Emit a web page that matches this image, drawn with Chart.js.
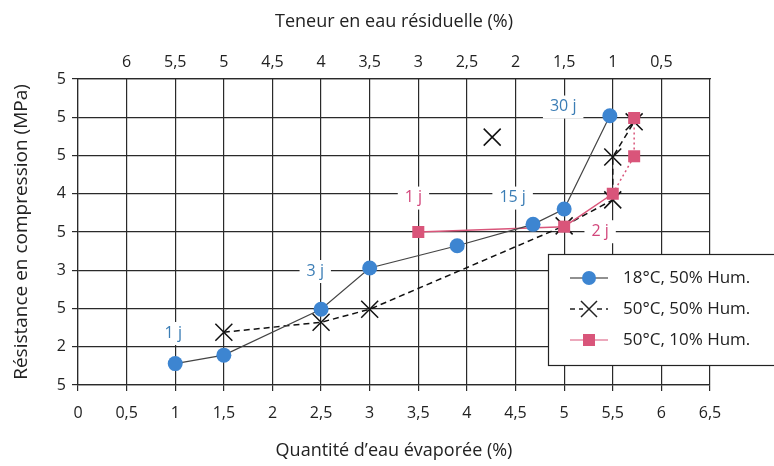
<!DOCTYPE html>
<html>
<head>
<meta charset="utf-8">
<script src="https://cdn.jsdelivr.net/npm/chart.js@4.4.1/dist/chart.umd.min.js"></script>
<style>
  html, body { margin: 0; padding: 0; background: #fff; }
  #wrap { width: 774px; height: 466px; }
</style>
</head>
<body>
<div id="wrap"><canvas id="chart" width="774" height="466"></canvas></div>
<script>
// Values
const bottomTickLabels = ['0', '0,5', '1', '1,5', '2', '2,5', '3', '3,5', '4', '4,5', '5', '5,5', '6', '6,5'];
const topTickLabels = ['', '6', '5,5', '5', '4,5', '4', '3,5', '3', '2,5', '2', '1,5', '1', '0,5', ''];
const yTickLabels = ['5', '2', '5', '3', '5', '4', '5', '5', '5'];

const seriesNames = ['18°C, 50% Hum.', '50°C, 50% Hum.', '50°C, 10% Hum.'];

const xHum18 = [1, 1.5, 2.5, 3, 3.9, 4.68, 5, 5.47];
const yHum18 = [1.78, 1.89, 2.49, 3.03, 3.32, 3.6, 3.8, 5.02];

const xHum50 = [1.5, 2.5, 3, 5, 5.5, 5.5, 5.72];
const yHum50 = [2.19, 2.32, 2.49, 3.58, 3.92, 4.48, 4.94];
const xHum50Extra = [4.26];
const yHum50Extra = [4.74];

const xHum10 = [3.5, 5, 5.5, 5.72, 5.72];
const yHum10 = [3.5, 3.57, 4.0, 4.49, 4.99];

const noteTexts = ['1 j', '3 j', '15 j', '30 j', '1 j', '2 j'];
const noteX = [0.98, 2.44, 4.47, 4.99, 3.45, 5.37];
const noteY = [2.18, 2.99, 3.95, 5.14, 3.95, 3.51];
const noteSeries = [0, 0, 0, 0, 2, 2];

const FONT = "'Open Sans', 'DejaVu Sans', sans-serif";
const INK = '#222222';
const BLUE = '#3d85d1';
const BLUE_TEXT = '#3b7db5';
const PINK = '#d9557a';
const PINK_TEXT = '#d2467b';

function toPoints(xs, ys) {
  return xs.map((x, i) => ({ x: x, y: ys[i] }));
}

// White-backed day labels
const notesPlugin = {
  id: 'notes',
  afterDatasetsDraw(chart) {
    const ctx = chart.ctx;
    const xs = chart.scales.x, ys = chart.scales.y;
    ctx.save();
    ctx.font = '16px ' + FONT;
    ctx.textAlign = 'center';
    ctx.textBaseline = 'middle';
    noteTexts.forEach((t, i) => {
      const px = xs.getPixelForValue(noteX[i]);
      const py = ys.getPixelForValue(noteY[i]);
      const w = ctx.measureText(t).width + 14;
      ctx.fillStyle = '#fff';
      ctx.fillRect(px - w / 2, py - 11, w, 23);
      ctx.fillStyle = noteSeries[i] === 0 ? BLUE_TEXT : PINK_TEXT;
      ctx.fillText(t, px, py);
    });
    ctx.restore();
  }
};

// Boxed legend on the right
const legendBoxPlugin = {
  id: 'legendBox',
  afterDatasetsDraw(chart) {
    const ctx = chart.ctx;
    const left = 548, top = 254, bottom = 365;
    ctx.save();
    ctx.fillStyle = '#fff';
    ctx.fillRect(left, top, 240, bottom - top);
    ctx.strokeStyle = INK;
    ctx.lineWidth = 1.2;
    ctx.strokeRect(left + 0.5, top + 0.5, 240, bottom - top);

    const rows = [278, 309, 340];
    const mx = 589;
    rows.forEach((ry, i) => {
      // line sample
      ctx.beginPath();
      ctx.lineWidth = i === 1 ? 1.5 : 1.2;
      ctx.strokeStyle = i === 2 ? PINK : INK;
      ctx.setLineDash(i === 1 ? [5, 4] : []);
      ctx.moveTo(570, ry);
      ctx.lineTo(608, ry);
      ctx.stroke();
      ctx.setLineDash([]);
      // marker
      if (i === 0) {
        ctx.beginPath();
        ctx.arc(mx, ry, 7, 0, Math.PI * 2);
        ctx.fillStyle = BLUE;
        ctx.fill();
      } else if (i === 1) {
        ctx.fillStyle = '#fff';
        ctx.fillRect(mx - 6, ry - 7, 12, 14);
        ctx.beginPath();
        ctx.lineWidth = 1.5;
        ctx.strokeStyle = INK;
        ctx.moveTo(mx - 8, ry - 8); ctx.lineTo(mx + 8, ry + 8);
        ctx.moveTo(mx + 8, ry - 8); ctx.lineTo(mx - 8, ry + 8);
        ctx.stroke();
      } else {
        ctx.fillStyle = PINK;
        ctx.fillRect(mx - 6, ry - 6, 12, 12);
      }
      ctx.fillStyle = INK;
      ctx.font = '17px ' + FONT;
      ctx.textAlign = 'left';
      ctx.textBaseline = 'middle';
      ctx.fillText(seriesNames[i], 623, ry);
    });
    ctx.restore();
  }
};

const gridStyle = {
  color: '#2a2a2a',
  lineWidth: 1.2,
  tickLength: 6,
  tickColor: '#2a2a2a'
};

new Chart(document.getElementById('chart'), {
  type: 'scatter',
  data: {
    datasets: [
      {
        label: seriesNames[0],
        data: toPoints(xHum18, yHum18),
        showLine: true,
        borderColor: '#444',
        borderWidth: 1.2,
        pointStyle: 'circle',
        pointRadius: 7.5,
        pointBackgroundColor: BLUE,
        pointBorderColor: BLUE,
        pointBorderWidth: 0
      },
      {
        label: seriesNames[2],
        data: toPoints(xHum10, yHum10),
        showLine: true,
        borderColor: PINK,
        borderWidth: 1.5,
        segment: {
          borderDash: c => (c.p0DataIndex >= 2 ? [2, 3] : undefined)
        },
        pointStyle: 'rect',
        pointRadius: 8.5,
        pointBackgroundColor: PINK,
        pointBorderColor: PINK,
        pointBorderWidth: 0
      },
      {
        label: seriesNames[1],
        data: toPoints(xHum50, yHum50),
        showLine: true,
        borderColor: '#111',
        borderWidth: 1.5,
        borderDash: [6, 4],
        pointStyle: 'crossRot',
        pointRadius: 12,
        pointBorderColor: '#111',
        pointBorderWidth: 1.5
      },
      {
        label: 'extra',
        data: toPoints(xHum50Extra, yHum50Extra),
        showLine: false,
        pointStyle: 'crossRot',
        pointRadius: 12,
        pointBorderColor: '#111',
        pointBorderWidth: 1.5
      }
    ]
  },
  options: {
    responsive: false,
    animation: false,
    layout: { padding: { left: 0, right: 64, top: 0, bottom: 0 } },
    plugins: {
      legend: { display: false },
      tooltip: { enabled: false }
    },
    scales: {
      x: {
        type: 'linear',
        position: 'bottom',
        min: 0,
        max: 6.5,
        afterFit: s => { s.height = 81; },
        afterBuildTicks: s => {
          s.ticks = bottomTickLabels.map((_, i) => ({ value: i * 0.5 }));
        },
        grid: gridStyle,
        border: { color: '#2a2a2a', width: 1.2 },
        ticks: {
          padding: 13,
          color: INK,
          font: { family: FONT, size: 16 },
          maxRotation: 0,
          autoSkip: false,
          callback: (v, i) => bottomTickLabels[i]
        },
        title: {
          display: true,
          text: 'Quantité d’eau évaporée (%)',
          color: INK,
          font: { family: FONT, size: 18 },
          padding: { top: 0, bottom: 4 }
        }
      },
      x2: {
        type: 'linear',
        position: 'top',
        min: 0,
        max: 6.5,
        afterFit: s => { s.height = 79; },
        afterBuildTicks: s => {
          s.ticks = topTickLabels.map((_, i) => ({ value: i * 0.5 }));
        },
        grid: { display: false, drawTicks: false },
        border: { color: '#2a2a2a', width: 1.2 },
        ticks: {
          padding: 7,
          color: INK,
          font: { family: FONT, size: 16 },
          maxRotation: 0,
          autoSkip: false,
          callback: (v, i) => topTickLabels[i]
        },
        title: {
          display: true,
          text: 'Teneur en eau résiduelle (%)',
          color: INK,
          font: { family: FONT, size: 18 },
          padding: { top: 11, bottom: 0 }
        }
      },
      y: {
        type: 'linear',
        min: 1.5,
        max: 5.5,
        afterFit: s => { s.width = 78; },
        afterBuildTicks: s => {
          s.ticks = yTickLabels.map((_, i) => ({ value: 1.5 + i * 0.5 }));
        },
        grid: gridStyle,
        border: { color: '#2a2a2a', width: 1.2 },
        ticks: {
          padding: 6,
          color: INK,
          font: { family: FONT, size: 16 },
          autoSkip: false,
          callback: (v, i) => yTickLabels[i]
        },
        title: {
          display: true,
          text: 'Résistance en compression (MPa)',
          color: INK,
          font: { family: FONT, size: 19 },
          padding: { top: 10, bottom: 0 }
        }
      }
    }
  },
  plugins: [notesPlugin, legendBoxPlugin]
});
</script>
</body>
</html>
